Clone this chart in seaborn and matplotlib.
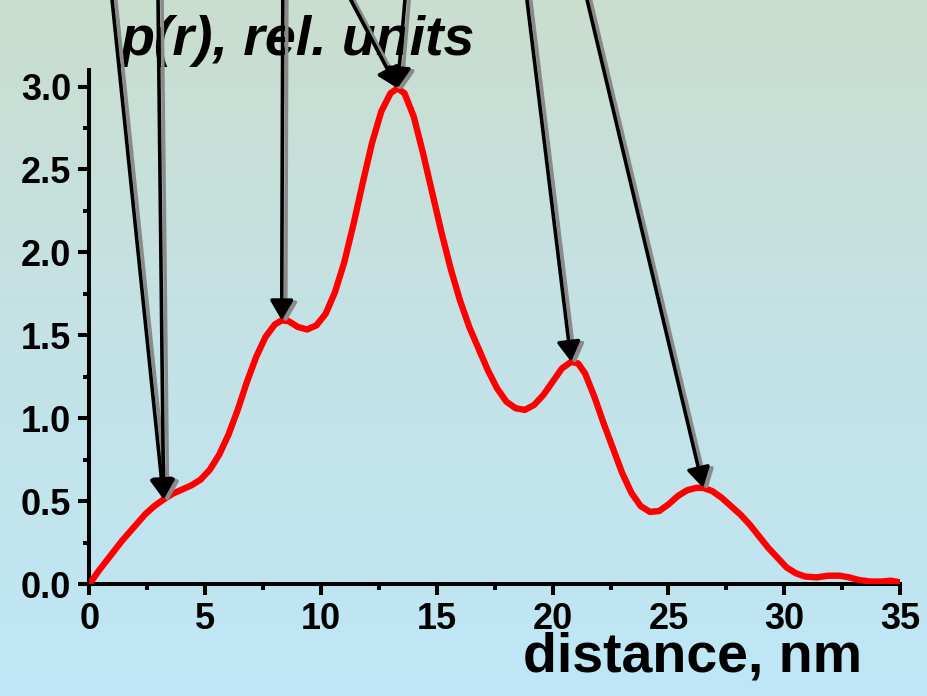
import numpy as np
import pandas as pd
import matplotlib
matplotlib.use("Agg")
import matplotlib.pyplot as plt
import seaborn as sns
from matplotlib.colors import LinearSegmentedColormap
from matplotlib.ticker import MultipleLocator, FormatStrFormatter
from matplotlib.transforms import offset_copy

# pair distribution function p(r)
distance_nm = [0.0, 0.4, 0.9, 1.4, 1.9, 2.4, 2.8, 3.2, 3.6, 4.0, 4.4, 4.8, 5.2,
               5.6, 6.0, 6.4, 6.8, 7.2, 7.6, 8.0, 8.3, 8.6, 9.0, 9.4, 9.8, 10.2,
               10.6, 11.0, 11.4, 11.8, 12.2, 12.6, 13.0, 13.3, 13.6, 14.0, 14.4,
               14.8, 15.2, 15.6, 16.0, 16.4, 16.8, 17.2, 17.6, 18.0, 18.4, 18.8,
               19.2, 19.6, 20.0, 20.4, 20.8, 21.1, 21.4, 21.8, 22.2, 22.6, 23.0,
               23.4, 23.8, 24.2, 24.6, 25.0, 25.4, 25.8, 26.2, 26.5, 26.9, 27.3,
               27.7, 28.1, 28.5, 28.9, 29.3, 29.7, 30.1, 30.5, 30.9, 31.4, 31.9,
               32.4, 32.8, 33.2, 33.7, 34.2, 34.6, 35.0]
p_r = [0.0, 0.08, 0.17, 0.26, 0.34, 0.42, 0.47, 0.51, 0.545, 0.57, 0.595, 0.63, 0.69,
       0.78, 0.90, 1.05, 1.22, 1.37, 1.49, 1.565, 1.59, 1.585, 1.55, 1.535, 1.56, 1.63,
       1.76, 1.94, 2.17, 2.42, 2.66, 2.85, 2.96, 2.99, 2.96, 2.82, 2.60,
       2.36, 2.12, 1.90, 1.71, 1.55, 1.42, 1.29, 1.18, 1.10, 1.06, 1.05,
       1.08, 1.14, 1.22, 1.30, 1.34, 1.33, 1.27, 1.13, 0.97, 0.82, 0.67,
       0.55, 0.47, 0.435, 0.44, 0.48, 0.53, 0.565, 0.58, 0.58, 0.56, 0.52,
       0.47, 0.42, 0.36, 0.29, 0.22, 0.16, 0.10, 0.065, 0.045, 0.04, 0.05,
       0.05, 0.04, 0.025, 0.015, 0.015, 0.02, 0.01]

# arrows: target feature on the curve and entry point above the frame
arrow_tip_x = [3.2, 3.2, 8.3, 13.3, 13.3, 20.8, 26.5]
arrow_tip_y = [0.51, 0.51, 1.59, 2.99, 2.99, 1.34, 0.58]
arrow_start_x = [0.88, 2.95, 8.35, 10.8, 13.7, 18.78, 21.27]
arrow_start_y = 3.65

x_ticks = [0, 5, 10, 15, 20, 25, 30, 35]
y_ticks = [0.0, 0.5, 1.0, 1.5, 2.0, 2.5, 3.0]

df = pd.DataFrame({"distance": distance_nm, "p": p_r})

sns.set_theme(style="ticks")
plt.rcParams["font.family"] = ["Liberation Sans", "DejaVu Sans"]
plt.rcParams.update({"text.color": "black", "xtick.color": "black",
                     "ytick.color": "black", "axes.labelcolor": "black",
                     "axes.edgecolor": "black"})

fig = plt.figure(figsize=(9.28, 6.96), dpi=100)

# vertical background gradient
bg = fig.add_axes([0, 0, 1, 1], zorder=-10)
grad_cmap = LinearSegmentedColormap.from_list(
    "bg", [(0.0, "#bee7f7"), (0.5, "#c4e2e6"), (1.0, "#cadecf")])
bg.imshow(np.linspace(0, 1, 256).reshape(-1, 1), aspect="auto", cmap=grad_cmap,
          origin="lower", extent=[0, 1, 0, 1])
bg.set_axis_off()

ax = fig.add_axes([89.5 / 928, 1 - 584 / 696, (900 - 89.5) / 928, (584 - 70) / 696])
ax.set_facecolor("none")

sns.lineplot(data=df, x="distance", y="p", ax=ax, color="#ff0000", linewidth=4.6,
             sort=False, zorder=3, solid_capstyle="round", solid_joinstyle="round")

ax.set_xlim(0, 35)
ax.set_ylim(0, 3.1)
ax.set_xticks(x_ticks)
ax.set_yticks(y_ticks)
ax.xaxis.set_minor_locator(MultipleLocator(2.5))
ax.yaxis.set_minor_locator(MultipleLocator(0.25))
ax.yaxis.set_major_formatter(FormatStrFormatter("%.1f"))
ax.set_xlabel("")
ax.set_ylabel("")

for side in ("top", "right"):
    ax.spines[side].set_visible(False)
for side in ("left", "bottom"):
    ax.spines[side].set_linewidth(2.9)
    ax.spines[side].set_color("black")

ax.tick_params(which="major", length=8, width=2.9, color="black", pad=5,
               labelsize=26, labelcolor="black")
ax.tick_params(which="minor", length=4, width=2.9, color="black")
for lab in ax.get_xticklabels() + ax.get_yticklabels():
    lab.set_fontweight("bold")

# arrows with a grey drop shadow
style = "-|>,head_length=0.6,head_width=0.35"
shadow_tr = offset_copy(ax.transData, fig=fig, x=4, y=-2, units="dots")
for sx, tx, ty in zip(arrow_start_x, arrow_tip_x, arrow_tip_y):
    ax.annotate("", xy=(tx, ty), xytext=(sx, arrow_start_y),
                xycoords=shadow_tr, textcoords=shadow_tr, annotation_clip=False,
                zorder=4,
                arrowprops=dict(arrowstyle=style, mutation_scale=20,
                                color="#8a8a8a", lw=2.6, shrinkA=0, shrinkB=0))
    ax.annotate("", xy=(tx, ty), xytext=(sx, arrow_start_y),
                xycoords="data", textcoords="data", annotation_clip=False,
                zorder=5,
                arrowprops=dict(arrowstyle=style, mutation_scale=20,
                                color="black", lw=2.6, shrinkA=0, shrinkB=0))

ax.text(120 / 928, 1 - 55 / 696, "p(r), rel. units", transform=fig.transFigure,
        fontsize=40, fontweight="bold", style="italic", ha="left", va="baseline",
        color="black", zorder=2)
ax.text(862 / 928, 1 - 672 / 696, "distance, nm", transform=fig.transFigure,
        fontsize=40, fontweight="bold", ha="right", va="baseline", color="black",
        zorder=2)

fig.savefig("out.png", dpi=100)
